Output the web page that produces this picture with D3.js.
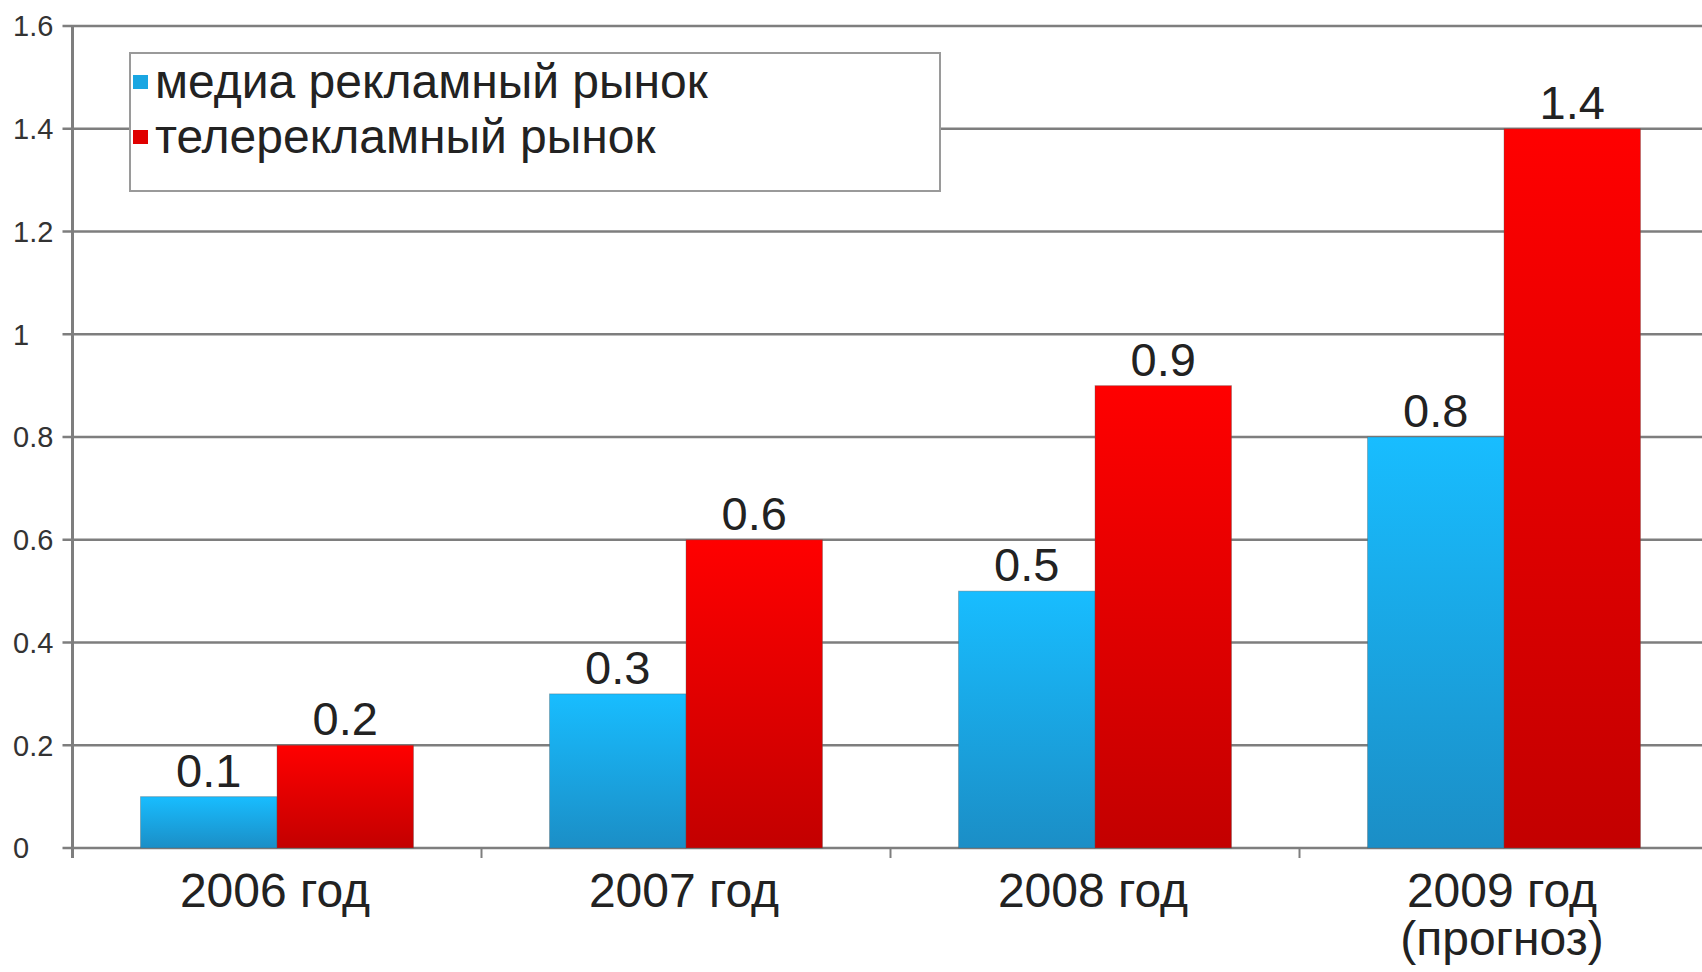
<!DOCTYPE html>
<html>
<head>
<meta charset="utf-8">
<script src="https://cdn.jsdelivr.net/npm/d3@7/dist/d3.min.js"></script>
<style>
  body { margin: 0; background: #fff; }
  svg { display: block; font-family: "Liberation Sans", Arial, sans-serif; }
  .tick-lbl { font-size: 29px; fill: #333; }
  .cat-lbl { font-size: 48px; fill: #222; }
  .value { font-size: 47px; fill: #222; text-anchor: middle; }
  .legend-text { font-size: 48px; fill: #222; }
</style>
</head>
<body>
<svg id="chart" width="1702" height="972"></svg>
<script>
// data
const categories = ["2006 год", "2007 год", "2008 год", "2009 год"];
const catLabels  = [["2006 год"], ["2007 год"], ["2008 год"], ["2009 год", "(прогноз)"]];
const series     = ["медиа рекламный рынок", "телерекламный рынок"];
const mediaVals  = [0.1, 0.3, 0.5, 0.8];
const tvVals     = [0.2, 0.6, 0.9, 1.4];
const yTicks     = [0, 0.2, 0.4, 0.6, 0.8, 1, 1.2, 1.4, 1.6];
const yTickText  = ["0", "0.2", "0.4", "0.6", "0.8", "1", "1.2", "1.4", "1.6"];

const valuesBySeries = [mediaVals, tvVals];

const svg = d3.select("#chart");
const plotL = 72.5, plotT = 26, plotB = 848, step = 409;

const y = d3.scaleLinear().domain([0, 1.6]).range([plotB, plotT]);
const x = d3.scaleBand().domain(categories).range([plotL, plotL + step * categories.length]).padding(0);
const inner = 68 / step;
const x1 = d3.scaleBand().domain(series).range([x.bandwidth() * inner, x.bandwidth() * (1 - inner)]).padding(0);

/* ---------- gradients ---------- */
const defs = svg.append("defs");
const grads = [
  { id: "gBlue", top: "#18bdff", bot: "#1b8ec6" },
  { id: "gRed",  top: "#ff0000", bot: "#c30000" }
];
grads.forEach(g => {
  const lg = defs.append("linearGradient").attr("id", g.id)
    .attr("x1", 0).attr("y1", 0).attr("x2", 0).attr("y2", 1);
  lg.append("stop").attr("offset", "0%").attr("stop-color", g.top);
  lg.append("stop").attr("offset", "100%").attr("stop-color", g.bot);
});
const fillOf = s => s === series[0] ? "url(#gBlue)" : "url(#gRed)";
const swatch = s => s === series[0] ? "#1aa6e2" : "#e00000";

/* ---------- grid ---------- */
svg.append("g").selectAll("line").data(yTicks).join("line")
  .attr("x1", plotL - 10).attr("x2", 1702)
  .attr("y1", d => y(d)).attr("y2", d => y(d))
  .attr("stroke", "#7e7e7e").attr("stroke-width", 2.6);

svg.append("g").selectAll("text").data(yTicks).join("text")
  .attr("class", "tick-lbl")
  .attr("x", 13).attr("y", d => y(d)).attr("dy", "0.36em")
  .text((d, i) => yTickText[i]);

// y axis line
svg.append("line")
  .attr("x1", plotL).attr("x2", plotL).attr("y1", plotT).attr("y2", plotB + 10)
  .attr("stroke", "#7e7e7e").attr("stroke-width", 3);

// category ticks
svg.append("g").selectAll("line").data(categories.slice(1)).join("line")
  .attr("x1", d => x(d)).attr("x2", d => x(d))
  .attr("y1", plotB).attr("y2", plotB + 10)
  .attr("stroke", "#7e7e7e").attr("stroke-width", 2);

/* ---------- bars ---------- */
const groups = svg.append("g").selectAll("g").data(categories).join("g")
  .attr("transform", d => `translate(${x(d)},0)`);

groups.selectAll("rect")
  .data((c, ci) => series.map((s, si) => ({ s, v: valuesBySeries[si][ci] })))
  .join("rect")
  .attr("x", d => x1(d.s))
  .attr("y", d => y(d.v))
  .attr("width", x1.bandwidth())
  .attr("height", d => y(0) - y(d.v))
  .attr("fill", d => fillOf(d.s))
  .attr("stroke", "rgba(90,90,90,0.35)")
  .attr("stroke-width", 1);

groups.selectAll("text.value")
  .data((c, ci) => series.map((s, si) => ({ s, v: valuesBySeries[si][ci] })))
  .join("text")
  .attr("class", "value")
  .attr("x", d => x1(d.s) + x1.bandwidth() / 2)
  .attr("y", d => y(d.v) - 10)
  .text(d => d3.format(".1f")(d.v));

// category labels
categories.forEach((c, i) => {
  const cx = x(c) + x.bandwidth() / 2 - 2;
  const t = svg.append("text").attr("class", "cat-lbl")
    .attr("text-anchor", "middle")
    .attr("x", cx)
    .attr("y", 907);
  catLabels[i].forEach((line, li) => {
    t.append("tspan").attr("x", cx)
      .attr("dy", li ? 48 : 0).text(line);
  });
});

/* ---------- legend ---------- */
const lg = svg.append("g");
lg.append("rect")
  .attr("x", 130).attr("y", 53).attr("width", 810).attr("height", 138)
  .attr("fill", "#fff").attr("stroke", "#9a9a9a").attr("stroke-width", 2);

series.forEach((s, i) => {
  lg.append("rect")
    .attr("x", 133).attr("y", 75 + i * 55).attr("width", 15).attr("height", 14)
    .attr("fill", swatch(s));
  lg.append("text").attr("class", "legend-text")
    .attr("x", 155).attr("y", 98 + i * 55)
    .text(s);
});
</script>
</body>
</html>
